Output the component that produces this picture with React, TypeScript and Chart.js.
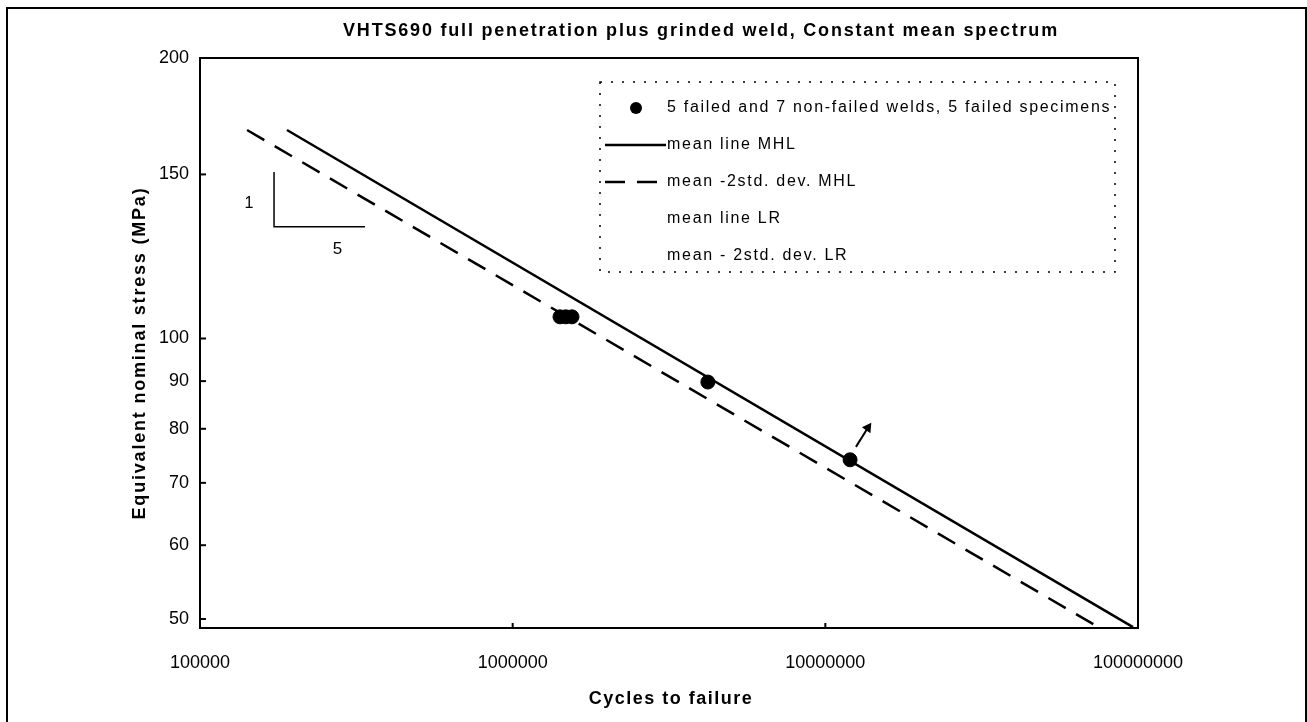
import React, { useEffect, useRef } from "react";
import { Chart, registerables } from "chart.js";

Chart.register(...registerables);

// ---------- text ----------
const chartTitle = "VHTS690 full penetration plus grinded weld, Constant mean spectrum";
const xAxisTitle = "Cycles to failure";
const yAxisTitle = "Equivalent nominal stress (MPa)";

// ---------- axes ----------
const xMin = 100000;
const xMax = 100000000;
const yMin = 48.9;
const yMax = 200;
const xTickValues = [100000, 1000000, 10000000, 100000000];
const yTickValues = [50, 60, 70, 80, 90, 100, 150, 200];

// ---------- series ----------
const testLabel = "5 failed and 7 non-failed welds, 5 failed specimens";
const testCycles = [1417000, 1479000, 1548000, 4210000, 12000000];
const testStress = [105.5, 105.5, 105.5, 89.8, 74.1];

const meanMhlLabel = "mean line MHL";
const meanMhlCycles = [189700, 96400000];
const meanMhlStress = [167.4, 49.0];

const lowerMhlLabel = "mean -2std. dev. MHL";
const lowerMhlCycles = [141400, 75500000];
const lowerMhlStress = [167.4, 48.9];

const meanLrLabel = "mean line LR";
const meanLrCycles: number[] = [];
const meanLrStress: number[] = [];

const lowerLrLabel = "mean - 2std. dev. LR";
const lowerLrCycles: number[] = [];
const lowerLrStress: number[] = [];

// run-out arrow next to the last specimen
const runoutCycles = [12530000, 13680000];
const runoutStress = [76.5, 80.2];

// slope 1:5 indicator
const slopeCycles = [172500, 172500, 337000];
const slopeStress = [150.9, 131.8, 131.8];
const slopeRiseLabel = "1";
const slopeRunLabel = "5";

const toPoints = (xs: number[], ys: number[]) => xs.map((x, i) => ({ x, y: ys[i] }));

const FONT = "'Liberation Sans', Arial, sans-serif";

function drawSpaced(
  ctx: CanvasRenderingContext2D,
  text: string,
  x: number,
  y: number,
  font: string,
  align: CanvasTextAlign,
  spacing: number
) {
  ctx.save();
  ctx.font = font;
  (ctx as any).letterSpacing = spacing + "px";
  ctx.fillStyle = "#000";
  ctx.textAlign = align;
  ctx.textBaseline = "middle";
  ctx.fillText(text, x, y);
  ctx.restore();
}

const decorPlugin = {
  id: "decor",
  afterDatasetsDraw(chart: any) {
    const { ctx, chartArea: ca, scales } = chart;
    const xs = scales.x;
    const ys = scales.y;

    // plot frame
    ctx.save();
    ctx.strokeStyle = "#000";
    ctx.lineWidth = 2;
    ctx.strokeRect(ca.left, ca.top, ca.right - ca.left, ca.bottom - ca.top);
    // inward tick marks
    yTickValues.forEach((v) => {
      const py = ys.getPixelForValue(v);
      ctx.beginPath();
      ctx.moveTo(ca.left, py);
      ctx.lineTo(ca.left + 6, py);
      ctx.stroke();
    });
    xTickValues.forEach((v) => {
      const px = xs.getPixelForValue(v);
      ctx.beginPath();
      ctx.moveTo(px, ca.bottom);
      ctx.lineTo(px, ca.bottom - 5);
      ctx.stroke();
    });
    ctx.restore();

    // slope labels
    drawSpaced(
      ctx,
      slopeRiseLabel,
      xs.getPixelForValue(slopeCycles[0]) - 25,
      (ys.getPixelForValue(slopeStress[0]) + ys.getPixelForValue(slopeStress[1])) / 2 + 4,
      `16px ${FONT}`,
      "center",
      0
    );
    drawSpaced(
      ctx,
      slopeRunLabel,
      (xs.getPixelForValue(slopeCycles[1]) + xs.getPixelForValue(slopeCycles[2])) / 2 + 18,
      ys.getPixelForValue(slopeStress[2]) + 23,
      `17px ${FONT}`,
      "center",
      0
    );

    // legend box
    const lx = 600;
    const ly = 82;
    const lw = 515;
    const lh = 190;
    ctx.save();
    ctx.strokeStyle = "#000";
    ctx.lineWidth = 1.5;
    ctx.setLineDash([2, 9]);
    ctx.strokeRect(lx, ly, lw, lh);
    ctx.restore();

    const items = chart.data.datasets.filter((d: any) => d.inLegend);
    items.forEach((d: any, i: number) => {
      const cy = 108 + i * 37;
      ctx.save();
      if (d.showLine) {
        ctx.strokeStyle = d.borderColor;
        ctx.lineWidth = d.borderWidth;
        ctx.setLineDash(d.borderDash || []);
        ctx.beginPath();
        ctx.moveTo(605, cy);
        ctx.lineTo(666, cy);
        ctx.stroke();
      } else if (d.pointRadius > 0) {
        ctx.fillStyle = d.backgroundColor;
        ctx.beginPath();
        ctx.arc(636, cy, 6, 0, Math.PI * 2);
        ctx.fill();
      }
      ctx.restore();
      drawSpaced(ctx, d.label, 667, cy, `16px ${FONT}`, "left", 1.7);
    });

    // chart title and axis titles
    drawSpaced(ctx, chartTitle, 701, 31, `bold 18px ${FONT}`, "center", 1.8);
    drawSpaced(ctx, xAxisTitle, 671, 699, `bold 18px ${FONT}`, "center", 1.5);
    ctx.save();
    ctx.translate(140, 353);
    ctx.rotate(-Math.PI / 2);
    drawSpaced(ctx, yAxisTitle, 0, 0, `bold 18px ${FONT}`, "center", 1.8);
    ctx.restore();
  },
};

export default function App() {
  const canvasRef = useRef<HTMLCanvasElement | null>(null);

  useEffect(() => {
    const canvas = canvasRef.current;
    if (!canvas) return;
    const chart = new Chart(canvas, {
      type: "scatter",
      data: {
        datasets: [
          {
            label: testLabel,
            data: toPoints(testCycles, testStress),
            backgroundColor: "#000",
            borderColor: "#000",
            pointRadius: 7,
            pointHoverRadius: 7,
            showLine: false,
            inLegend: true,
          } as any,
          {
            label: meanMhlLabel,
            data: toPoints(meanMhlCycles, meanMhlStress),
            borderColor: "#000",
            backgroundColor: "#000",
            borderWidth: 2.5,
            pointRadius: 0,
            showLine: true,
            inLegend: true,
          },
          {
            label: lowerMhlLabel,
            data: toPoints(lowerMhlCycles, lowerMhlStress),
            borderColor: "#000",
            backgroundColor: "#000",
            borderWidth: 2.5,
            borderDash: [20, 12],
            pointRadius: 0,
            showLine: true,
            inLegend: true,
          },
          {
            label: meanLrLabel,
            data: toPoints(meanLrCycles, meanLrStress),
            borderColor: "rgba(0,0,0,0)",
            backgroundColor: "rgba(0,0,0,0)",
            borderWidth: 0,
            pointRadius: 0,
            showLine: false,
            inLegend: true,
          },
          {
            label: lowerLrLabel,
            data: toPoints(lowerLrCycles, lowerLrStress),
            borderColor: "rgba(0,0,0,0)",
            backgroundColor: "rgba(0,0,0,0)",
            borderWidth: 0,
            pointRadius: 0,
            showLine: false,
            inLegend: true,
          },
          {
            label: "run-out",
            data: toPoints(runoutCycles, runoutStress),
            borderColor: "#000",
            backgroundColor: "#000",
            borderWidth: 2,
            pointRadius: [0, 4],
            pointStyle: "triangle",
            pointRotation: 35,
            showLine: true,
          },
          {
            label: "slope",
            data: toPoints(slopeCycles, slopeStress),
            borderColor: "#000",
            borderWidth: 1.5,
            pointRadius: 0,
            showLine: true,
          },
        ] as any,
      },
      options: {
        animation: false,
        responsive: false,
        events: [],
        layout: { padding: { top: 58, right: 169, bottom: 0, left: 0 } },
        plugins: {
          legend: { display: false },
          title: { display: false },
          tooltip: { enabled: false },
        },
        scales: {
          x: {
            type: "logarithmic",
            min: xMin,
            max: xMax,
            afterBuildTicks: (scale: any) => {
              scale.ticks = xTickValues.map((v) => ({ value: v }));
            },
            afterFit: (scale: any) => {
              scale.height = 94;
            },
            grid: { display: false, drawTicks: false },
            border: { display: true, color: "#000", width: 2 },
            ticks: {
              autoSkip: false,
              maxRotation: 0,
              padding: 24,
              color: "#000",
              font: { family: FONT, size: 18 },
              callback: (v: any) => String(v),
            },
          },
          y: {
            type: "logarithmic",
            min: yMin,
            max: yMax,
            afterBuildTicks: (scale: any) => {
              scale.ticks = yTickValues.map((v) => ({ value: v }));
            },
            afterFit: (scale: any) => {
              scale.width = 200;
            },
            grid: { display: false, drawTicks: false },
            border: { display: true, color: "#000", width: 2 },
            ticks: {
              autoSkip: false,
              padding: 11,
              color: "#000",
              font: { family: FONT, size: 18 },
              callback: (v: any) => String(v),
            },
          },
        },
      } as any,
      plugins: [decorPlugin],
    });
    return () => chart.destroy();
  }, []);

  return (
    <div>
      <canvas
        ref={canvasRef}
        width={1307}
        height={722}
        style={{ position: "fixed", left: 0, top: 0, width: 1307, height: 722, background: "#fff" }}
      />
      <div
        style={{
          position: "fixed",
          left: 6,
          top: 7,
          width: 1301,
          height: 740,
          boxSizing: "border-box",
          border: "2px solid #000",
          pointerEvents: "none",
        }}
      />
    </div>
  );
}
